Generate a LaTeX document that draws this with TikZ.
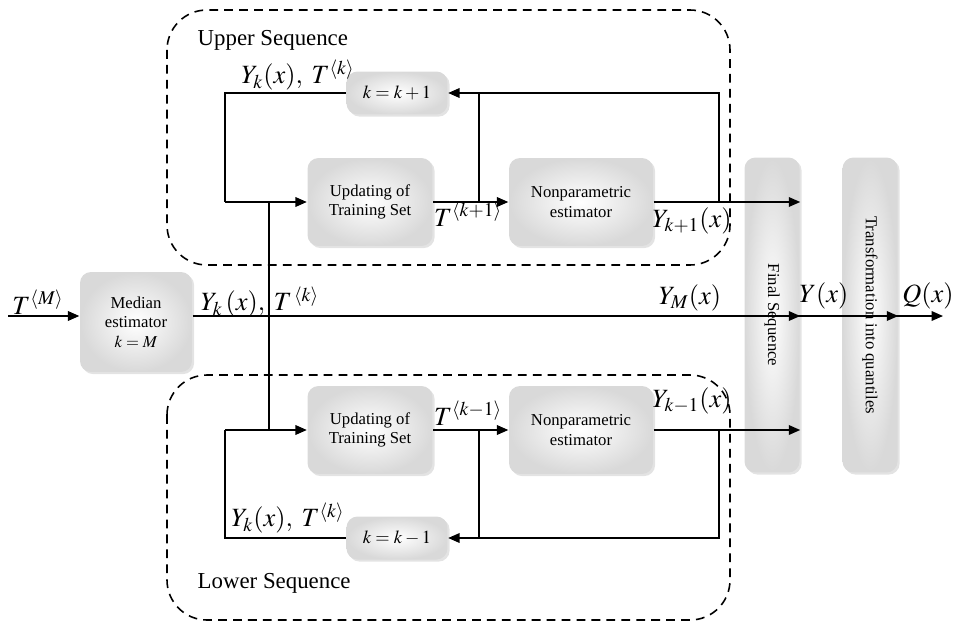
\documentclass[tikz,border=0pt]{standalone}
\usepackage{mathptmx}
\usepackage{fontspec}
\setmainfont{Liberation Serif}
\usepackage{tikz}
\usetikzlibrary{arrows.meta,shadows,positioning}

\begin{document}
\begin{tikzpicture}[x=0.02cm,y=-0.02cm,
  >={Triangle[length=6.5pt,width=5.5pt]},
  line width=0.8pt,
  block/.style={rounded corners=0.22cm, shading=radial, inner color=white,
    outer color=gray!30, align=center, inner sep=2pt,
    drop shadow={opacity=0.22,shadow xshift=1.2pt,shadow yshift=-1.2pt},
    font=\fontsize{9.5}{11}\selectfont},
  seqframe/.style={dash pattern=on 5pt off 3.5pt, rounded corners=0.8cm, line width=0.9pt},
  lbl/.style={font=\fontsize{15}{18}\selectfont, inner sep=0pt},
  seqlbl/.style={font=\fontsize{13}{15}\selectfont, anchor=west, inner sep=0pt}]

  \useasboundingbox (0,0) rectangle (955,625);

  % Dashed frames of the two sequences
  \draw[seqframe] (167,10) rectangle (730,265);
  \draw[seqframe] (167,375) rectangle (730,620);
  \node[seqlbl] (upseq) at (197,40) {Upper Sequence};
  \node[seqlbl] (loseq) at (197,583) {Lower Sequence};

  % Blocks
  \node[block, minimum width=2.24cm, minimum height=2cm] (med) at (136,322) {Median\\estimator\\$k=M$};
  \node[block, minimum width=2.5cm, minimum height=1.76cm] (upd1) at (370,202) {Updating of\\Training Set};
  \node[block, minimum width=2.88cm, minimum height=1.76cm] (np1) at (581,202) {Nonparametric\\estimator};
  \node[block, minimum width=2.02cm, minimum height=0.86cm, font=\fontsize{10.5}{12}\selectfont] (kp) at (397,93) {$k=k+1$};
  \node[block, minimum width=2.5cm, minimum height=1.76cm] (upd2) at (370,430) {Updating of\\Training Set};
  \node[block, minimum width=2.88cm, minimum height=1.76cm] (np2) at (581,430) {Nonparametric\\estimator};
  \node[block, minimum width=2.02cm, minimum height=0.86cm, font=\fontsize{10.5}{12}\selectfont] (km) at (397,538) {$k=k-1$};
  \node[block, rotate=-90, minimum width=6.3cm, minimum height=1.1cm] (fin) at (772,315) {Final Sequence};
  \node[block, rotate=-90, minimum width=6.3cm, minimum height=1.1cm] (tq) at (870,315) {Transformation into quantiles};

  % Junction points
  \coordinate (tin) at (8,316);
  \coordinate (qout) at (943,316);
  \coordinate (ub) at (225,202);
  \coordinate (lb) at (225,430);
  \coordinate (vj1) at (269,202);
  \coordinate (vj2) at (269,430);
  \coordinate (ubr) at (479,202);
  \coordinate (lbr) at (479,430);
  \coordinate (ur) at (719,202);
  \coordinate (lr) at (719,430);

  % Main line
  \draw[->] (tin) -- (tin -| med.west);
  \draw[->] (med.east |- tin) -- (tin -| fin.north);
  \draw (vj1) -- (vj2);
  \draw[->] (fin.south |- tin) -- (tin -| tq.north);
  \draw[->] (tq.south |- tin) -- (qout);

  % Upper sequence
  \draw[->] (ub) -- (upd1.west);
  \draw[->] (upd1.east) -- (np1.west);
  \draw[->] (np1.east) -- (np1.east -| fin.north);
  \draw[->] (ur) |- (kp.east);
  \draw (ubr) -- (ubr |- kp.east);
  \draw (kp.west) -| (ub);

  % Lower sequence
  \draw[->] (lb) -- (upd2.west);
  \draw[->] (upd2.east) -- (np2.west);
  \draw[->] (np2.east) -- (np2.east -| fin.north);
  \draw[->] (lr) |- (km.east);
  \draw (lbr) -- (lbr |- km.east);
  \draw (km.west) -| (lb);

  % Labels
  \node[lbl] (tm) at (38,302) {$T^{\langle M\rangle}$};
  \node[lbl] (ykm) at (260,302) {$Y_k\,(x),\; T^{\,\langle k\rangle}$};
  \node[lbl] (yM) at (690,298) {$Y_M(x)$};
  \node[lbl] (yx) at (824,296) {$Y(x)$};
  \node[lbl] (qx) at (928,296) {$Q(x)$};
  \node[lbl] (ykup) at (298,75) {$Y_k(x),\; T^{\langle k\rangle}$};
  \node[lbl] (tkp) at (468,214) {$T^{\langle k+1\rangle}$};
  \node[lbl] (ykp) at (692,221) {$Y_{k+1}(x)$};
  \node[lbl] (tkm) at (468,413) {$T^{\langle k-1\rangle}$};
  \node[lbl] (ykmin) at (692,401) {$Y_{k-1}(x)$};
  \node[lbl] (yklo) at (288,518) {$Y_k(x),\; T^{\langle k\rangle}$};
\end{tikzpicture}
\end{document}
